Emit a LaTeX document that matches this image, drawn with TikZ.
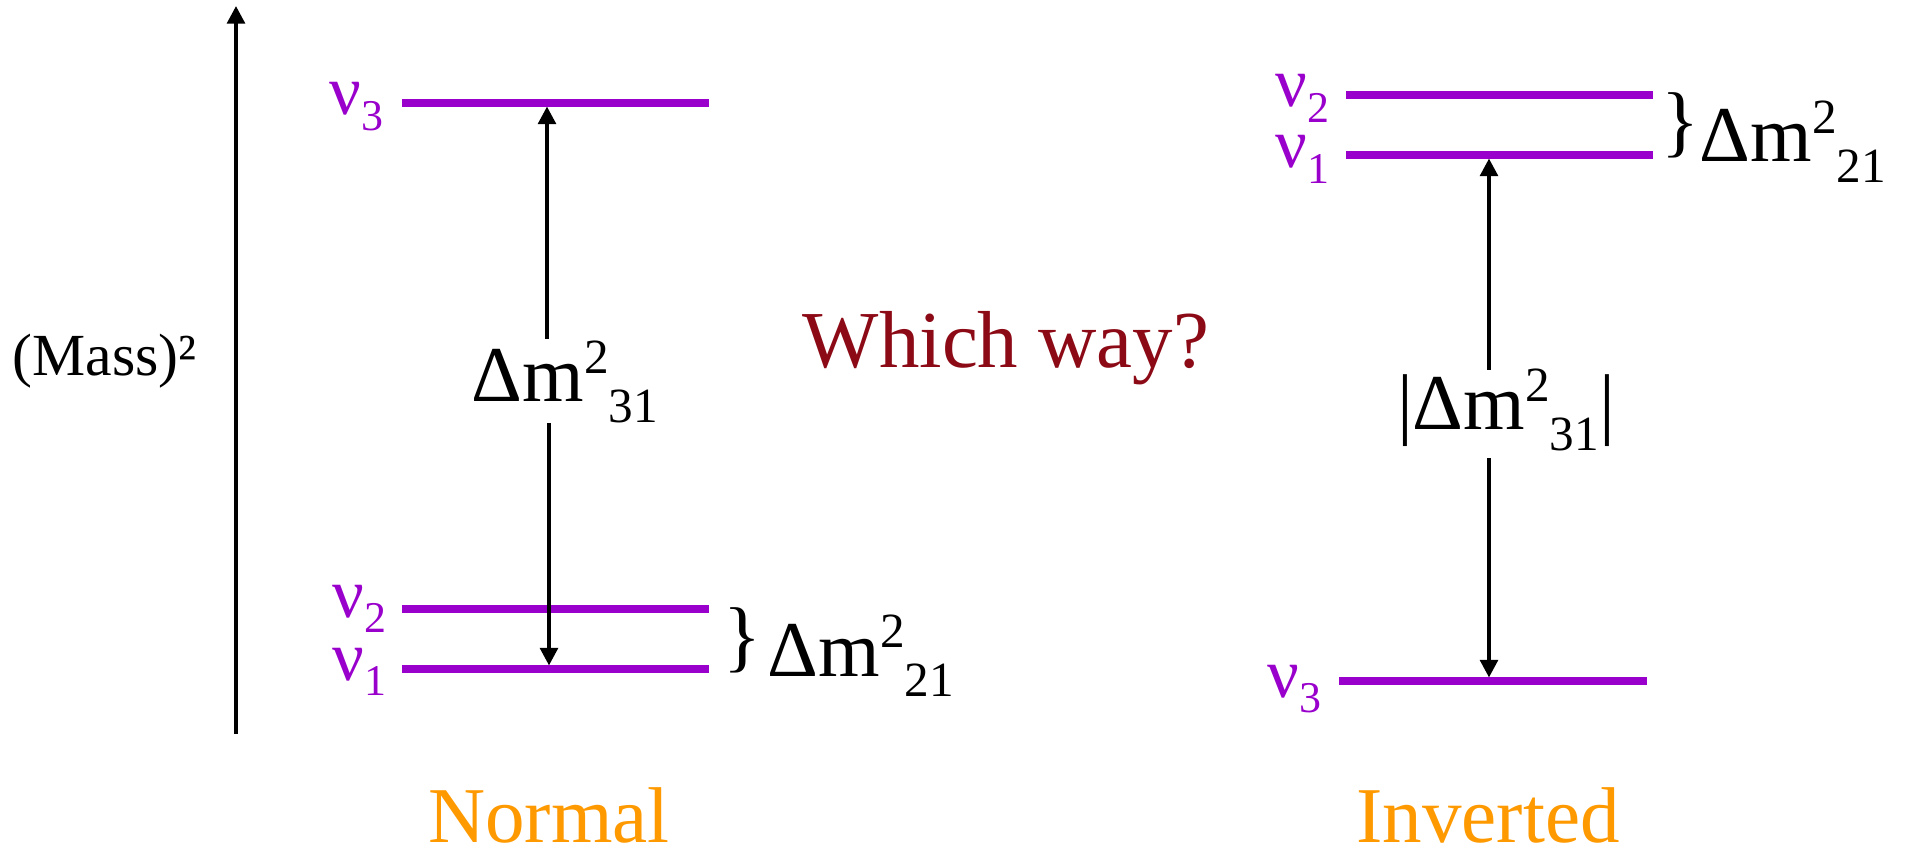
\documentclass[tikz,border=0pt]{standalone}
\usepackage{fontspec}
\setmainfont{Liberation Serif}
\usetikzlibrary{arrows.meta}
\definecolor{level}{RGB}{153,0,204}
\definecolor{order}{RGB}{255,153,0}
\definecolor{ask}{RGB}{140,10,22}
\newcommand{\dmsq}[1]{Δm\raisebox{8.2pt}{\fontsize{14}{14}\selectfont 2}\raisebox{-5.7pt}{\fontsize{14}{14}\selectfont #1}}
\newcommand{\nulab}[1]{ν\raisebox{-4.5pt}{\fontsize{12.5}{12.5}\selectfont #1}}
\tikzset{
  lvl/.style={level, line width=2pt},
  nu/.style={text=level, font=\fontsize{20}{20}\selectfont, anchor=base east, inner sep=0pt},
  gap/.style={-{Triangle[length=5pt,width=5pt]}, line width=1.1pt},
  big/.style={font=\fontsize{22.5}{22.5}\selectfont, inner sep=0pt},
}

\begin{document}
\begin{tikzpicture}
  \useasboundingbox (0,0) rectangle (19.1,-8.46);

  % mass axis
  \coordinate (ax0) at (2.36,-7.34);
  \coordinate (ax1) at (2.36,-0.06);
  \draw[gap] (ax0) -- (ax1);
  \node[font=\fontsize{17}{17}\selectfont, anchor=base, inner sep=0pt] (mass) at (1.045,-3.75) {(Mass)²};

  % normal ordering
  \coordinate (n3l) at (4.02,-1.03); \coordinate (n3r) at (7.09,-1.03);
  \coordinate (n2l) at (4.02,-6.09); \coordinate (n2r) at (7.09,-6.09);
  \coordinate (n1l) at (4.02,-6.69); \coordinate (n1r) at (7.09,-6.69);
  \draw[lvl] (n3l) -- (n3r);
  \draw[lvl] (n2l) -- (n2r);
  \draw[lvl] (n1l) -- (n1r);
  \node[nu] (nn3) at (3.84,-1.15) {\nulab{3}};
  \node[nu] (nn2) at (3.87,-6.17) {\nulab{2}};
  \node[nu] (nn1) at (3.87,-6.80) {\nulab{1}};
  \node[big, anchor=base] (dm31) at (5.65,-4.02) {\dmsq{31}};
  \coordinate (n3a) at (5.47,-1.065);
  \coordinate (u1) at (5.47,-3.39);
  \coordinate (d1) at (5.49,-4.23);
  \coordinate (n1a) at (5.49,-6.655);
  \draw[gap] (u1) -- (n3a);
  \draw[gap] (d1) -- (n1a);
  \node[big] (br21) at (7.42,-6.40) {\}};
  \node[big, anchor=base west] (dm21) at (7.67,-6.76) {\dmsq{21}};
  \node[big, text=order, anchor=base] (norm) at (5.49,-8.42) {Normal};

  \node[big, text=ask, font=\fontsize{23}{23}\selectfont, anchor=base] (which) at (10.06,-3.68) {Which way?};

  % inverted ordering
  \coordinate (i2l) at (13.46,-0.95); \coordinate (i2r) at (16.53,-0.95);
  \coordinate (i1l) at (13.46,-1.55); \coordinate (i1r) at (16.53,-1.55);
  \coordinate (i3l) at (13.39,-6.81); \coordinate (i3r) at (16.47,-6.81);
  \draw[lvl] (i2l) -- (i2r);
  \draw[lvl] (i1l) -- (i1r);
  \draw[lvl] (i3l) -- (i3r);
  \node[nu] (in2) at (13.30,-1.07) {\nulab{2}};
  \node[nu] (in1) at (13.30,-1.68) {\nulab{1}};
  \node[nu] (in3) at (13.22,-6.97) {\nulab{3}};
  \node[big, anchor=base] (dm31i) at (15.06,-4.30) {|\dmsq{31}|};
  \coordinate (i1a) at (14.89,-1.585);
  \coordinate (u2) at (14.89,-3.70);
  \coordinate (d2) at (14.89,-4.58);
  \coordinate (i3a) at (14.89,-6.775);
  \draw[gap] (u2) -- (i1a);
  \draw[gap] (d2) -- (i3a);
  \node[big] (br21i) at (16.80,-1.25) {\}};
  \node[big, anchor=base west] (dm21i) at (16.99,-1.62) {\dmsq{21}};
  \node[big, text=order, anchor=base] (inv) at (14.88,-8.42) {Inverted};
\end{tikzpicture}
\end{document}
